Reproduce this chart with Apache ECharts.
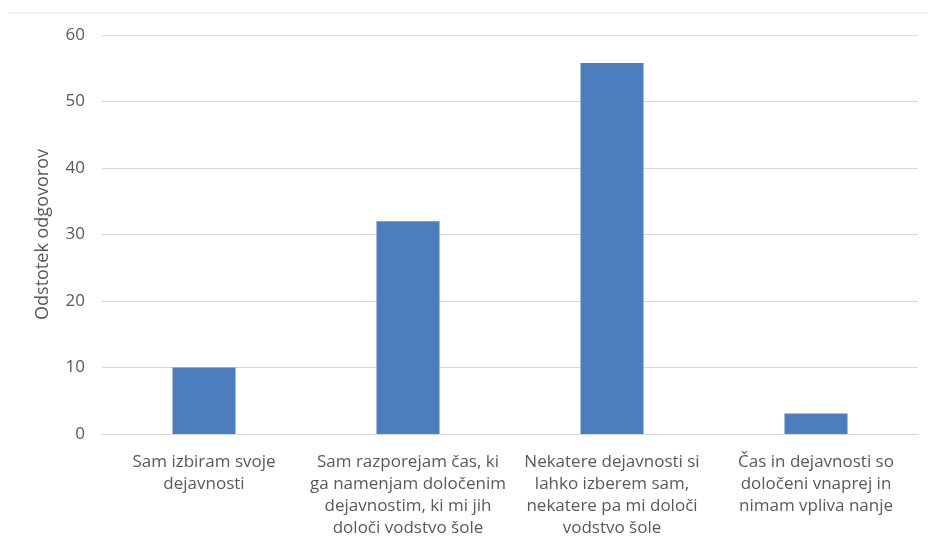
<!DOCTYPE html>
<html><head><meta charset="utf-8">
<script src="https://cdn.jsdelivr.net/npm/echarts@6/dist/echarts.min.js"></script>
<style>html,body{margin:0;padding:0;background:#fff}#c{width:928px;height:539px}</style>
</head><body><div id="c"></div>
<script>
var categories = [
  'Sam izbiram svoje\ndejavnosti',
  'Sam razporejam čas, ki\nga namenjam določenim\ndejavnostim, ki mi jih\ndoloči vodstvo šole',
  'Nekatere dejavnosti si\nlahko izberem sam,\nnekatere pa mi določi\nvodstvo šole',
  'Čas in dejavnosti so\ndoločeni vnaprej in\nnimam vpliva nanje'
];
var values = [10, 32, 55.8, 3.1];
var yTicks = {min: 0, max: 60, interval: 10};
var yName = 'Odstotek odgovorov';

var chart = echarts.init(document.getElementById('c'));
var font = 'Open Sans';
chart.setOption({
  animation: false,
  textStyle: {fontFamily: font},
  grid: {left: 102, right: 10, top: 35, bottom: 102},
  graphic: [{type: 'line', shape: {x1: 8, y1: 13, x2: 928, y2: 13}, style: {stroke: '#e6e6e6', lineWidth: 1}}],
  xAxis: {
    type: 'category', data: categories,
    axisLine: {lineStyle: {color: '#d9d9d9', width: 1}},
    axisTick: {show: false},
    axisLabel: {interval: 0, color: '#595959', fontSize: 17, lineHeight: 22, margin: 17, fontFamily: font}
  },
  yAxis: {
    type: 'value', min: yTicks.min, max: yTicks.max, interval: yTicks.interval,
    name: yName, nameLocation: 'middle', nameGap: 50, nameRotate: 90,
    nameTextStyle: {color: '#595959', fontSize: 18, fontFamily: font},
    axisLine: {show: false}, axisTick: {show: false},
    axisLabel: {color: '#595959', fontSize: 17, margin: 17, fontFamily: font},
    splitLine: {lineStyle: {color: '#d9d9d9', width: 1}}
  },
  series: [{type: 'bar', data: values, barWidth: 63, itemStyle: {color: '#4a7ebf'}}]
});
</script></body></html>
